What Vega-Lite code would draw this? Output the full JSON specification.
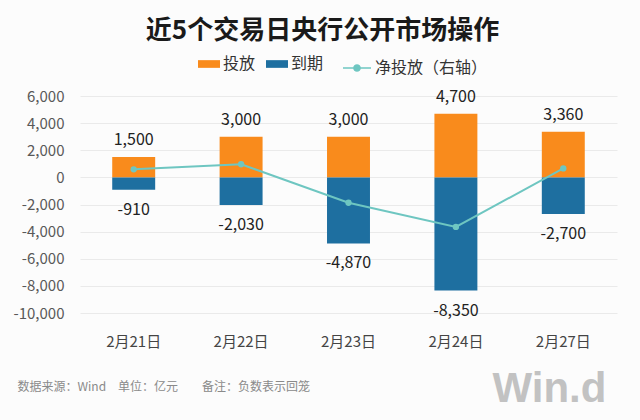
{
  "$schema": "https://vega.github.io/schema/vega-lite/v6.json",
  "autosize": {"type": "none"},
  "width": 537,
  "height": 217,
  "padding": {"left": 80, "top": 96, "right": 23, "bottom": 107},
  "background": "#FCFCFC",
  "title": {
    "text": "近5个交易日央行公开市场操作",
    "anchor": "middle",
    "frame": "group",
    "dx": -26,
    "offset": 9,
    "font": "Noto Sans CJK SC",
    "fontSize": 26,
    "fontWeight": "bold",
    "color": "#1A1A1A"
  },
  "config": {
    "view": {"stroke": null},
    "font": "Noto Sans CJK SC",
    "axis": {"labelFont": "Noto Sans CJK SC"},
    "legend": {"labelFont": "Noto Sans CJK SC"},
    "locale": {
      "number": {
        "decimal": ".",
        "thousands": ",",
        "grouping": [3],
        "currency": ["", ""],
        "minus": "-"
      }
    }
  },
  "datasets": {
    "bars": [
      {"date": "2月21日", "类型": "投放", "value": 1500},
      {"date": "2月21日", "类型": "到期", "value": -910},
      {"date": "2月22日", "类型": "投放", "value": 3000},
      {"date": "2月22日", "类型": "到期", "value": -2030},
      {"date": "2月23日", "类型": "投放", "value": 3000},
      {"date": "2月23日", "类型": "到期", "value": -4870},
      {"date": "2月24日", "类型": "投放", "value": 4700},
      {"date": "2月24日", "类型": "到期", "value": -8350},
      {"date": "2月27日", "类型": "投放", "value": 3360},
      {"date": "2月27日", "类型": "到期", "value": -2700}
    ],
    "net": [
      {"date": "2月21日", "series": "净投放（右轴）", "net": 590},
      {"date": "2月22日", "series": "净投放（右轴）", "net": 970},
      {"date": "2月23日", "series": "净投放（右轴）", "net": -1870},
      {"date": "2月24日", "series": "净投放（右轴）", "net": -3650},
      {"date": "2月27日", "series": "净投放（右轴）", "net": 660}
    ]
  },
  "encoding": {
    "x": {
      "field": "date",
      "type": "nominal",
      "sort": null,
      "scale": {"paddingInner": 0.6, "paddingOuter": 0.3},
      "axis": {
        "title": "数据来源：Wind\u3000单位：亿元\u3000\u3000备注：负数表示回笼",
        "titleAnchor": "start",
        "titleAlign": "left",
        "titleBaseline": "alphabetic",
        "titleX": -63,
        "titleY": 77,
        "titleFontSize": 12,
        "titleFontWeight": "normal",
        "titleColor": "#8A8A8A",
        "titleFont": "Noto Sans CJK SC",
        "labelAngle": 0,
        "labelFontSize": 15,
        "labelColor": "#444444",
        "labelPadding": 21,
        "ticks": false,
        "domain": false,
        "grid": false
      }
    }
  },
  "layer": [
    {
      "data": {"name": "bars"},
      "encoding": {
        "y": {
          "field": "value",
          "type": "quantitative",
          "stack": null,
          "scale": {"domain": [-10000, 6000], "nice": false},
          "axis": {
            "title": null,
            "values": [-10000, -8000, -6000, -4000, -2000, 0, 2000, 4000, 6000],
            "format": ",d",
            "labelFontSize": 15,
            "labelColor": "#595959",
            "labelPadding": 16,
            "ticks": false,
            "domain": false,
            "gridColor": "#EAEAEA",
            "gridWidth": 1
          }
        }
      },
      "layer": [
        {
          "mark": {"type": "bar"},
          "encoding": {
            "color": {
              "field": "类型",
              "type": "nominal",
              "scale": {"domain": ["投放", "到期"], "range": ["#F98B1C", "#1E6FA0"]},
              "legend": {
                "title": null,
                "orient": "none",
                "direction": "horizontal",
                "legendX": 118,
                "legendY": -43,
                "symbolType": "M-1,-0.35H1V0.35H-1Z",
                "symbolSize": 484,
                "symbolStrokeWidth": 0,
                "labelFontSize": 16,
                "labelColor": "#333333",
                "labelOffset": 3,
                "columnPadding": 10
              }
            }
          }
        },
        {
          "transform": [{"filter": "datum.value > 0"}],
          "mark": {"type": "text", "baseline": "middle", "dy": -17, "fontSize": 16, "color": "#222222"},
          "encoding": {
            "text": {"field": "value", "type": "quantitative", "format": ","}
          }
        },
        {
          "transform": [{"filter": "datum.value < 0"}],
          "mark": {"type": "text", "baseline": "middle", "dy": 20, "fontSize": 16, "color": "#222222"},
          "encoding": {
            "text": {"field": "value", "type": "quantitative", "format": ","}
          }
        }
      ]
    },
    {
      "data": {"name": "net"},
      "encoding": {
        "y": {
          "field": "net",
          "type": "quantitative",
          "scale": {"domain": [-10000, 6000], "nice": false},
          "axis": {
            "orient": "right",
            "title": "Win.d",
            "titleAngle": 0,
            "titleAlign": "left",
            "titleBaseline": "alphabetic",
            "titleX": -125,
            "titleY": 305,
            "titleFontSize": 42,
            "titleFontWeight": "bold",
            "titleFont": "Liberation Sans",
            "titleColor": "#C2C2C2",
            "labels": false,
            "ticks": false,
            "domain": false,
            "grid": false
          }
        },
        "color": {
          "field": "series",
          "type": "nominal",
          "scale": {"range": ["#6EC6C1"]},
          "legend": {
            "title": null,
            "orient": "none",
            "direction": "horizontal",
            "legendX": 262,
            "legendY": -43,
            "symbolType": "M-1,0H1M-0.22,0A0.22,0.22,0,1,1,0.22,0A0.22,0.22,0,1,1,-0.22,0Z",
            "symbolSize": 784,
            "symbolStrokeWidth": 1.5,
            "symbolFillColor": "#6EC6C1",
            "labelFontSize": 16,
            "labelColor": "#333333",
            "labelOffset": 3
          }
        }
      },
      "layer": [
        {"mark": {"type": "line", "strokeWidth": 2}},
        {"mark": {"type": "point", "filled": true, "size": 40, "opacity": 1}}
      ]
    }
  ],
  "resolve": {"scale": {"y": "independent", "color": "independent"}}
}
